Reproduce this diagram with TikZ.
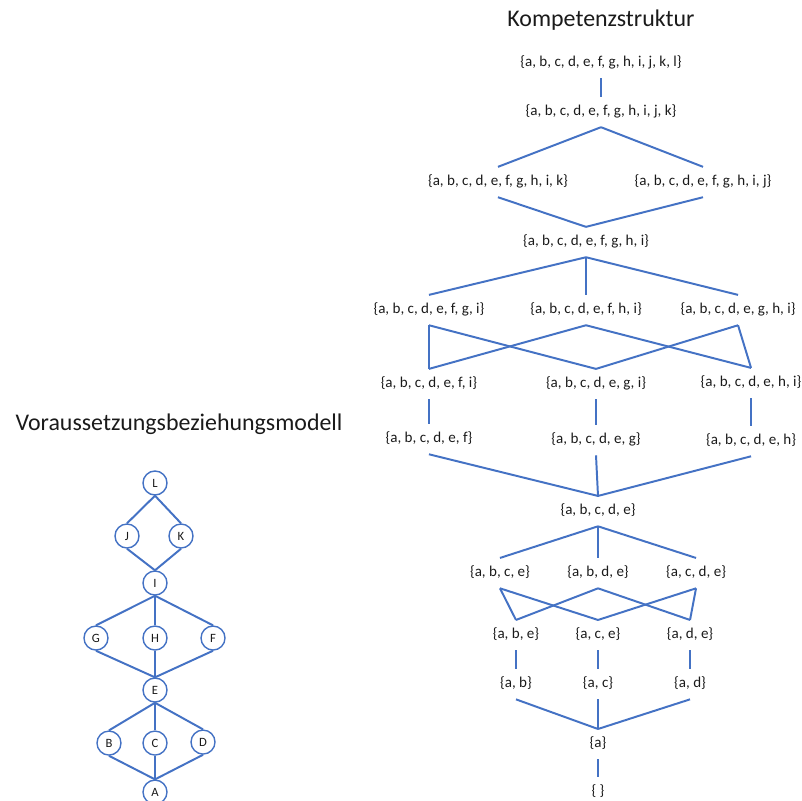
\documentclass[tikz,border=0pt]{standalone}
\usepackage{fontspec}
\setmainfont{Carlito}
\usepackage{tikz}
\usetikzlibrary{positioning}
\definecolor{kantenblau}{HTML}{4472C4}
\definecolor{schrift}{HTML}{1A1A1A}
\tikzstyle{menge} = [inner xsep=1pt, inner ysep=5.6pt, text height=7.5pt, text depth=2.5pt, text=schrift, font=\fontsize{10.7}{12}\selectfont]
\tikzstyle{kreis} = [circle, draw=kantenblau, line width=1pt, fill=white, minimum size=0.6cm, inner sep=0pt, text=schrift, font=\fontsize{9}{10}\selectfont]
\tikzstyle{kante} = [draw=kantenblau, line width=1.4pt]
\tikzstyle{titel} = [text=schrift, font=\fontsize{17}{20}\selectfont]

\begin{document}
\begin{tikzpicture}[x=0.025cm, y=-0.025cm, on grid]
  \useasboundingbox (0,0) rectangle (802,801);
  % Kompetenzstruktur
  \node[menge] (abcdefghijkl) at (601,63) {\{a, b, c, d, e, f, g, h, i, j, k, l\}};
  \node[titel, above=1.075cm of abcdefghijkl] (kstruktur) {Kompetenzstruktur};
  \node[menge, below=1.225cm of abcdefghijkl] (abcdefghijk) {\{a, b, c, d, e, f, g, h, i, j, k\}};
  \node[menge, below left=1.75cm and 2.575cm of abcdefghijk] (abcdefghik) {\{a, b, c, d, e, f, g, h, i, k\}};
  \node[menge, below right=1.75cm and 2.55cm of abcdefghijk] (abcdefghij) {\{a, b, c, d, e, f, g, h, i, j\}};
  \node[menge, below right=1.5cm and 2.2cm of abcdefghik] (abcdefghi) {\{a, b, c, d, e, f, g, h, i\}};
  \node[menge, below=1.7cm of abcdefghi] (abcdefhi) {\{a, b, c, d, e, f, h, i\}};
  \node[menge, left=3.925cm of abcdefhi] (abcdefgi) {\{a, b, c, d, e, f, g, i\}};
  \node[menge, right=3.8cm of abcdefhi] (abcdeghi) {\{a, b, c, d, e, g, h, i\}};
  \node[menge, below=1.85cm of abcdefgi] (abcdefi) {\{a, b, c, d, e, f, i\}};
  \node[menge, below right=1.85cm and 0.25cm of abcdefhi] (abcdegi) {\{a, b, c, d, e, g, i\}};
  \node[menge, below right=1.825cm and 0.325cm of abcdeghi] (abcdehi) {\{a, b, c, d, e, h, i\}};
  \node[menge, below=1.375cm of abcdefi] (abcdef) {\{a, b, c, d, e, f\}};
  \node[menge, below=1.4cm of abcdegi] (abcdeg) {\{a, b, c, d, e, g\}};
  \node[menge, below=1.45cm of abcdehi] (abcdeh) {\{a, b, c, d, e, h\}};
  \node[menge, below right=1.775cm and 0.05cm of abcdeg] (abcde) {\{a, b, c, d, e\}};
  \node[menge, below=1.55cm of abcde] (abde) {\{a, b, d, e\}};
  \node[menge, left=2.45cm of abde] (abce) {\{a, b, c, e\}};
  \node[menge, right=2.45cm of abde] (acde) {\{a, c, d, e\}};
  \node[menge, below right=1.55cm and 0.4cm of abce] (abe) {\{a, b, e\}};
  \node[menge, below=1.55cm of abde] (ace) {\{a, c, e\}};
  \node[menge, below left=1.55cm and 0.15cm of acde] (ade) {\{a, d, e\}};
  \node[menge, below=1.225cm of abe] (ab) {\{a, b\}};
  \node[menge, below=1.225cm of ace] (ac) {\{a, c\}};
  \node[menge, below=1.225cm of ade] (ad) {\{a, d\}};
  \node[menge, below=1.5cm of ac] (a) {\{a\}};
  \node[menge, below=1.2cm of a] (leer) {\{ \}};

  \draw[kante] (abcdefghijkl.south) -- (abcdefghijk.north);
  \draw[kante] (abcdefghijk.south) -- (abcdefghik.north);
  \draw[kante] (abcdefghijk.south) -- (abcdefghij.north);
  \draw[kante] (abcdefghik.south) -- (abcdefghi.north);
  \draw[kante] (abcdefghij.south) -- (abcdefghi.north);
  \draw[kante] (abcdefghi.south) -- (abcdefgi.north);
  \draw[kante] (abcdefghi.south) -- (abcdefhi.north);
  \draw[kante] (abcdefghi.south) -- (abcdeghi.north);
  \draw[kante] (abcdefgi.south) -- (abcdefi.north);
  \draw[kante] (abcdefgi.south) -- (abcdegi.north);
  \draw[kante] (abcdefhi.south) -- (abcdefi.north);
  \draw[kante] (abcdefhi.south) -- (abcdehi.north);
  \draw[kante] (abcdeghi.south) -- (abcdegi.north);
  \draw[kante] (abcdeghi.south) -- (abcdehi.north);
  \draw[kante] (abcdefi.south) -- (abcdef.north);
  \draw[kante] (abcdegi.south) -- (abcdeg.north);
  \draw[kante] (abcdehi.south) -- (abcdeh.north);
  \draw[kante] (abcdef.south) -- (abcde.north);
  \draw[kante] (abcdeg.south) -- (abcde.north);
  \draw[kante] (abcdeh.south) -- (abcde.north);
  \draw[kante] (abcde.south) -- (abce.north);
  \draw[kante] (abcde.south) -- (abde.north);
  \draw[kante] (abcde.south) -- (acde.north);
  \draw[kante] (abce.south) -- (abe.north);
  \draw[kante] (abce.south) -- (ace.north);
  \draw[kante] (abde.south) -- (abe.north);
  \draw[kante] (abde.south) -- (ade.north);
  \draw[kante] (acde.south) -- (ace.north);
  \draw[kante] (acde.south) -- (ade.north);
  \draw[kante] (abe.south) -- (ab.north);
  \draw[kante] (ace.south) -- (ac.north);
  \draw[kante] (ade.south) -- (ad.north);
  \draw[kante] (ab.south) -- (a.north);
  \draw[kante] (ac.south) -- (a.north);
  \draw[kante] (ad.south) -- (a.north);
  \draw[kante] (a.south) -- (leer.north);

  % Voraussetzungsbeziehungsmodell
  \node[kreis] (L) at (155,483) {L};
  \node[titel, above right=1.475cm and 0.6cm of L] (vmodell) {Voraussetzungsbeziehungsmodell};
  \node[kreis, below left=1.325cm and 0.7cm of L] (J) {J};
  \node[kreis, below right=1.325cm and 0.65cm of L] (K) {K};
  \node[kreis, below=2.5cm of L] (I) {I};
  \node[kreis, below left=1.375cm and 1.475cm of I] (G) {G};
  \node[kreis, below=1.375cm of I] (H) {H};
  \node[kreis, below right=1.375cm and 1.45cm of I] (F) {F};
  \node[kreis, below=2.675cm of I] (E) {E};
  \node[kreis, below left=1.325cm and 1.15cm of E] (B) {B};
  \node[kreis, below=1.325cm of E] (C) {C};
  \node[kreis, below right=1.3cm and 1.2cm of E] (D) {D};
  \node[kreis, below=1.225cm of C] (A) {A};

  \draw[kante] (L.south) -- (J.north);
  \draw[kante] (L.south) -- (K.north);
  \draw[kante] (J.south) -- (I.north);
  \draw[kante] (K.south) -- (I.north);
  \draw[kante] (I.south) -- (G.north);
  \draw[kante] (I.south) -- (H.north);
  \draw[kante] (I.south) -- (F.north);
  \draw[kante] (G.south) -- (E.north);
  \draw[kante] (H.south) -- (E.north);
  \draw[kante] (F.south) -- (E.north);
  \draw[kante] (E.south) -- (B.north);
  \draw[kante] (E.south) -- (C.north);
  \draw[kante] (E.south) -- (D.north);
  \draw[kante] (B.south) -- (A.north);
  \draw[kante] (C.south) -- (A.north);
  \draw[kante] (D.south) -- (A.north);
\end{tikzpicture}
\end{document}
